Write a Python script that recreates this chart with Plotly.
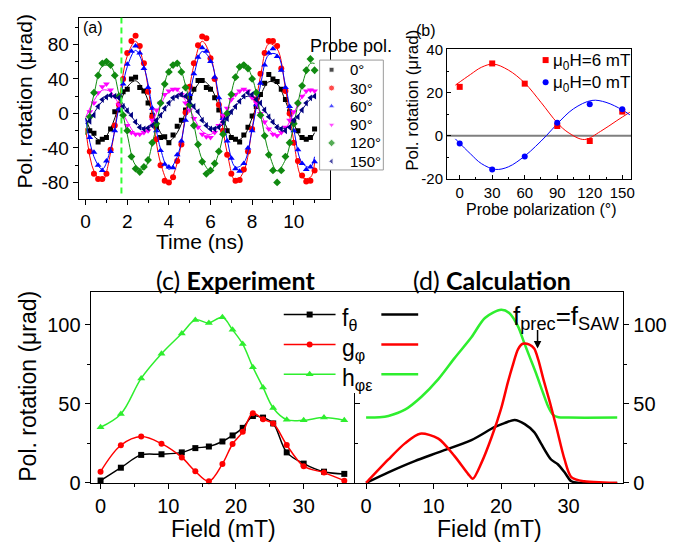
import plotly.graph_objects as go

W, H = 692, 553
def px(x): return x / W
def py(y): return 1 - y / H

# ---------------- panel (a): time traces ----------------
time_ns = [0.2, 0.4, 0.6, 0.8, 1.0, 1.2, 1.4, 1.6, 1.8, 2.0, 2.2, 2.4, 2.6, 2.8, 3.0, 3.2, 3.4, 3.6, 3.8, 4.0,
           4.2, 4.4, 4.6, 4.8, 5.0, 5.2, 5.4, 5.6, 5.8, 6.0, 6.2, 6.4, 6.6, 6.8, 7.0, 7.2, 7.4, 7.6, 7.8, 8.0,
           8.2, 8.4, 8.6, 8.8, 9.0, 9.2, 9.4, 9.6, 9.8, 10.0, 10.2, 10.4, 10.6, 10.8, 11.0]
fit_time_ns = [0.0, 0.4, 0.8, 1.2, 1.6, 2.0, 2.4, 2.8, 3.2, 3.6, 4.0, 4.4, 4.8, 5.2, 5.6, 6.0, 6.4, 6.8,
               7.2, 7.6, 8.0, 8.4, 8.8, 9.2, 9.6, 10.0, 10.4, 10.8, 11.0]

pol0_data = [-20, -23, -33, -30, -28, -18, 2, 4, 25, 28, 40, 42, 30, 26, 12, -2, -16, -28, -27, -34,
             -25, -15, -8, 4, 18, 28, 38, 38, 30, 28, 18, 4, -4, -20, -28, -30, -33, -25, -16, -3,
             8, 22, 35, 45, 40, 37, 28, 16, 2, -10, -20, -28, -30, -28, -18]
pol0_fit = [-5.2, -26.4, -31.4, -17.3, 8.0, 30.5, 37.8, 25.9, 1.4, -22.3, -32.0, -22.3, 1.4, 25.9, 37.8,
            30.5, 8.0, -17.3, -31.4, -26.4, -5.2, 20.5, 36.6, 34.1, 14.4, -11.5, -29.5, -29.5, -22.3]

pol30_data = [-44, -70, -76, -76, -70, -42, -14, 10, 40, 70, 84, 90, 78, 58, 25, -4, -30, -60, -78, -80,
              -74, -55, -36, 1, 31, 58, 79, 89, 87, 64, 40, 10, -20, -48, -70, -78, -77, -65, -44, -18,
              16, 46, 70, 84, 84, 78, 52, 26, 0, -34, -55, -72, -79, -78, -66]
pol30_fit = [-17.3, -67.0, -78.5, -45.6, 13.7, 66.5, 83.6, 55.7, -1.9, -57.4, -80.0, -57.4, -1.9, 55.7, 83.6,
             66.5, 13.7, -45.6, -78.5, -67.0, -17.3, 43.0, 80.6, 74.9, 28.8, -32.0, -74.1, -74.1, -57.4]

pol60_data = [-28, -45, -60, -66, -55, -44, -20, 5, 34, 57, 72, 78, 70, 52, 30, 6, -20, -43, -59, -62,
              -63, -48, -32, -8, 22, 46, 65, 76, 72, 60, 42, 18, -6, -32, -52, -64, -67, -58, -40, -20,
              10, 35, 56, 70, 75, 66, 50, 30, 8, -20, -42, -58, -65, -62, -56]
pol60_fit = [-5.9, -50.2, -64.7, -41.2, 7.2, 54.0, 73.0, 54.0, 7.2, -41.2, -64.7, -50.2, -5.9, 44.1, 71.8,
             62.0, 20.2, -30.5, -62.2, -57.3, -18.6, 32.6, 68.0, 68.0, 32.6, -18.6, -57.3, -62.2, -50.2]

pol90_data = [2, 12, 24, 31, 34, 27, 20, 10, -2, -14, -22, -24, -24, -22, -20, -8, 4, 12, 22, 26,
              28, 28, 22, 12, 4, -6, -16, -24, -27, -28, -22, -14, -2, 6, 16, 22, 26, 28, 26, 18,
              12, 0, -10, -18, -24, -26, -22, -16, -8, 2, 10, 20, 26, 27, 26]
pol90_fit = [-4.7, 14.8, 26.9, 25.1, 10.2, -9.5, -23.1, -23.1, -9.5, 10.2, 25.1, 26.9, 14.8, -4.7, -20.8,
             -24.5, -13.9, 5.3, 22.3, 27.9, 18.9, 0.3, -17.7, -25.0, -17.7, 0.3, 18.9, 27.9, 26.9]

pol120_data = [-4, 24, 44, 58, 60, 56, 44, 20, -2, -20, -50, -64, -68, -62, -54, -34, -12, 12, 34, 48,
               56, 58, 48, 30, 10, -14, -36, -56, -70, -66, -58, -44, -24, 0, 22, 42, 54, 56, 52, 40,
               24, -2, -26, -48, -66, -80, -66, -50, -34, -12, 12, 32, 50, 63, 50]
pol120_fit = [-24.6, 22.1, 54.5, 54.5, 22.1, -24.6, -60.0, -64.4, -35.5, 10.8, 49.0, 57.9, 32.6, -13.0, -53.5,
              -66.7, -45.3, -1.0, 41.6, 59.0, 41.6, -1.0, -45.3, -66.7, -53.5, -13.0, 32.6, 57.9, 57.9]

pol150_data = [-9, -2, 8, 16, 19, 21, 20, 18, 8, 3, -2, -10, -16, -18, -17, -14, -8, -2, 6, 12,
               18, 20, 22, 20, 14, 8, 2, -8, -14, -18, -18, -16, -10, -6, 2, 8, 14, 20, 24, 22,
               16, 12, 4, -4, -10, -16, -18, -20, -16, -8, -4, 4, 12, 18, 20]
pol150_fit = [-12.3, 0.6, 13.9, 20.4, 16.4, 4.2, -9.5, -17.2, -14.5, -3.0, 11.0, 19.7, 18.4, 7.7, -6.4,
              -16.1, -16.1, -6.4, 7.7, 18.4, 19.7, 11.0, -3.0, -14.5, -17.2, -9.5, 4.2, 16.4, 19.7]

probe_labels = ["0°", "30°", "60°", "90°", "120°", "150°"]
marker_time_ns = 1.72

# ---------------- panel (b) ----------------
probe_angle = [0, 30, 60, 90, 120, 150]
rot_6mT = [22.7, 33.6, 24.2, 4.5, -2.5, 11.2]
rot_0mT = [-3.7, -15.7, -9.7, 6.0, 14.6, 12.3]
fit6_angle = [-4, 10, 20, 31, 45, 60, 75, 90, 100, 115, 130, 145, 157]
fit6_rot = [23.5, 28.5, 31.8, 33.3, 30.5, 24.5, 15.5, 6.0, 1.5, -1.8, 2.0, 7.0, 10.9]
fit0_angle = [-4, 10, 20, 33, 45, 60, 70, 80, 90, 105, 122, 135, 150, 157]
fit0_rot = [-1.5, -8.5, -13.0, -15.7, -14.5, -9.5, -5.0, 0.0, 5.5, 12.5, 16.4, 15.5, 12.0, 9.7]
legend_b = ["μ<sub>0</sub>H=6 mT", "μ<sub>0</sub>H=0 mT"]

# ---------------- panel (c) experiment ----------------
exp_field = [0, 3, 6, 9, 12, 14, 16, 18, 19.5, 21, 22.5, 24, 25.5, 27.5, 30, 33, 36]
exp_f = [1.5, 9.6, 17.7, 18.1, 19.3, 22, 23, 26.2, 30, 34.8, 42.3, 41.3, 37.6, 19.3, 12.2, 7.1, 5.7]
exp_g = [7.1, 23.8, 29.3, 24.8, 16.1, 7.3, 1.0, 12.0, 24.6, 32.3, 44.1, 40.2, 37.6, 24.0, 10.6, 6.5, 1.4]
exp_h = [35.2, 43.6, 66.1, 81.7, 94.5, 103, 101.2, 104.7, 96.8, 87.8, 73.2, 60.4, 47.4, 40, 39.6, 41.3, 39.6]

# ---------------- panel (d) calculation ----------------
calc_field_f = [0, 3.3, 7.2, 10.7, 15.6, 19, 20.5, 22, 23.5, 24.9, 25.9, 27.4, 28.4, 29.4, 30.4, 31.5, 37.2]
calc_f = [0, 6.7, 13.8, 19.3, 27, 35.2, 37.8, 39.8, 37.2, 32.1, 25, 14.8, 11.8, 6.7, 1.0, 0, 0]
calc_field_g = [0, 3.3, 5.75, 8, 10.7, 13.1, 15.1, 15.8, 17.1, 18.6, 20, 21, 21.7, 22.5, 23.2, 24.2, 24.9,
                25.5, 26.3, 27.2, 28.2, 29.4, 30.4, 32.3, 35.2, 37.2]
calc_g = [0, 14.8, 25, 31.1, 28, 16.9, 5.7, 2.6, 12.8, 29, 47, 63.6, 74, 84.5, 88, 87.5, 85,
          78, 65, 51.4, 35, 14.8, 3.7, 1, 0.3, 0]
calc_field_h = [0, 2, 3.3, 5.75, 8.2, 10.7, 13.1, 15.6, 17.6, 20, 21.2, 22.5, 23.3, 24.2, 25.2, 26.2, 27.0,
                27.7, 28.5, 30, 37.2]
calc_h = [41.3, 41.5, 42.3, 46.3, 54.5, 65.6, 78.9, 92.1, 104.3, 109.5, 107.5, 99, 90, 80, 69, 57, 48,
          43, 41.5, 41.3, 41.3]
cd_labels = ["f<sub>θ</sub>", "g<sub>φ</sub>", "h<sub>φε</sub>"]
resonance_field, resonance_value = 25.4, 85

# ---------------- styles ----------------
FONT = "Liberation Sans, Arial, sans-serif"
TITLEFONT = "Lato, Open Sans, sans-serif"
BLACK, RED, BLUE, MAG, DGREEN, NAVY = "#000000", "#FF0000", "#0000FF", "#FF00FF", "#108A10", "#000080"
LIME = "#2EEE2E"

fig = go.Figure()

series_a = [
    (pol0_data, pol0_fit, BLACK, "square", 5),
    (pol30_data, pol30_fit, RED, "circle", 6),
    (pol60_data, pol60_fit, BLUE, "triangle-up", 6),
    (pol90_data, pol90_fit, MAG, "triangle-down", 6),
    (pol120_data, pol120_fit, DGREEN, "diamond", 6),
    (pol150_data, pol150_fit, NAVY, "triangle-left", 6),
]
for data, fit, col, sym, sz in series_a:
    fig.add_trace(go.Scatter(x=fit_time_ns, y=fit, mode="lines", xaxis="x", yaxis="y",
                             line=dict(color=col, width=1, shape="spline", smoothing=1.0),
                             showlegend=False, hoverinfo="skip"))
    fig.add_trace(go.Scatter(x=time_ns, y=data, mode="markers", xaxis="x", yaxis="y",
                             marker=dict(color=col, symbol=sym, size=sz, line=dict(width=0)),
                             showlegend=False))

# panel (b)
fig.add_trace(go.Scatter(x=fit6_angle, y=fit6_rot, mode="lines", xaxis="x2", yaxis="y2",
                         line=dict(color=RED, width=1, shape="spline", smoothing=1.0), showlegend=False))
fig.add_trace(go.Scatter(x=fit0_angle, y=fit0_rot, mode="lines", xaxis="x2", yaxis="y2",
                         line=dict(color=BLUE, width=1, shape="spline", smoothing=1.0), showlegend=False))
fig.add_trace(go.Scatter(x=probe_angle, y=rot_6mT, mode="markers", xaxis="x2", yaxis="y2",
                         marker=dict(color=RED, symbol="square", size=6), showlegend=False, cliponaxis=False))
fig.add_trace(go.Scatter(x=probe_angle, y=rot_0mT, mode="markers", xaxis="x2", yaxis="y2",
                         marker=dict(color=BLUE, symbol="circle", size=6), showlegend=False, cliponaxis=False))

# panel (c)
for y, col, sym, sz in [(exp_h, LIME, "triangle-up", 7), (exp_f, BLACK, "square", 6), (exp_g, RED, "circle", 6)]:
    fig.add_trace(go.Scatter(x=exp_field, y=y, mode="lines+markers", xaxis="x3", yaxis="y3",
                             line=dict(color=col, width=1.5, shape="spline", smoothing=1.0),
                             marker=dict(color=col, symbol=sym, size=sz), showlegend=False, cliponaxis=False))

# panel (d)
for xs, ys, col in [(calc_field_h, calc_h, LIME), (calc_field_f, calc_f, BLACK), (calc_field_g, calc_g, RED)]:
    fig.add_trace(go.Scatter(x=xs, y=ys, mode="lines", xaxis="x4", yaxis="y4",
                             line=dict(color=col, width=2.5, shape="spline", smoothing=0.8), showlegend=False))
# divider axis helper (empty)
fig.add_trace(go.Scatter(x=[], y=[], xaxis="x4", yaxis="y6", showlegend=False))

# ---------------- overlay (pixel coordinates) for legend glyphs ----------------
leg_a_rows = [63, 82, 101, 120, 139, 158]
fig.add_trace(go.Scatter(x=[321, 385, 385, 321, 321], y=[53, 53, 167, 167, 53], mode="lines",
                         fill="toself", fillcolor="white", line=dict(color="#9a9a9a", width=1),
                         xaxis="x5", yaxis="y5", showlegend=False, hoverinfo="skip"))
fig.add_trace(go.Scatter(x=[333] * 6, y=leg_a_rows, mode="markers", xaxis="x5", yaxis="y5",
                         marker=dict(color=[s[2] for s in series_a], symbol=[s[3] for s in series_a],
                                     size=[s[4] for s in series_a]), showlegend=False, hoverinfo="skip"))
leg_b_rows = [53, 76]
fig.add_trace(go.Scatter(x=[548, 548], y=leg_b_rows, mode="markers", xaxis="x5", yaxis="y5",
                         marker=dict(color=[RED, BLUE], symbol=["square", "circle"], size=6),
                         showlegend=False, hoverinfo="skip"))
leg_cd_rows = [317, 348, 379]
for r, col, sym, sz in zip(leg_cd_rows, [BLACK, RED, LIME], ["square", "circle", "triangle-up"], [6, 6, 7]):
    fig.add_trace(go.Scatter(x=[285, 311, 337], y=[r, r, r], mode="lines", xaxis="x5", yaxis="y5",
                             line=dict(color=col, width=1.5), showlegend=False, hoverinfo="skip"))
    fig.add_trace(go.Scatter(x=[311], y=[r], mode="markers", xaxis="x5", yaxis="y5",
                             marker=dict(color=col, symbol=sym, size=sz), showlegend=False, hoverinfo="skip"))
    fig.add_trace(go.Scatter(x=[383, 420], y=[r, r], mode="lines", xaxis="x5", yaxis="y5",
                             line=dict(color=col, width=2.5), showlegend=False, hoverinfo="skip"))

# ---------------- axes ----------------
def ax(**kw):
    base = dict(showline=True, linecolor="black", linewidth=1, showgrid=False, zeroline=False,
                ticks="outside", tickcolor="black", ticklen=5, tickwidth=1, autorange=False,
                tickfont=dict(family=FONT, size=20, color="black"))
    base.update(kw)
    return base

def minor(vals, ticks="outside", ln=3):
    return dict(tickvals=vals, ticks=ticks, ticklen=ln, tickcolor="black", showgrid=False)

fig.update_layout(
    width=W, height=H, margin=dict(l=0, r=0, t=0, b=0), autosize=False,
    paper_bgcolor="white", plot_bgcolor="rgba(0,0,0,0)",
    font=dict(family=FONT, color="black"),
    showlegend=False,
    xaxis=ax(domain=[px(79), px(331)], range=[-0.335, 11.72], anchor="y", mirror=True,
             tickvals=[0, 2, 4, 6, 8, 10], minor=minor([1, 3, 5, 7, 9, 11]),
             tickfont=dict(family=FONT, size=19)),
    yaxis=ax(domain=[py(197), py(9)], range=[-99, 110.9], anchor="x", mirror=True,
             tickvals=[-80, -40, 0, 40, 80], ticktext=["-80", "-40", "0", "40", "80"],
             minor=minor([-60, -20, 20, 60, 100]), tickfont=dict(family=FONT, size=19)),
    xaxis2=ax(domain=[px(449), px(634)], range=[-11.67, 158.3], anchor="y2", mirror=True,
              ticks="inside", ticklen=4, tickvals=[0, 30, 60, 90, 120, 150],
              minor=minor([15, 45, 75, 105, 135], "inside", 2), tickfont=dict(family=FONT, size=15)),
    yaxis2=ax(domain=[py(176), py(42)], range=[-20, 40.1], anchor="x2", mirror=True,
              ticks="inside", ticklen=4, tickvals=[-20, 0, 20, 40], ticktext=["-20", "0", "20", "40"],
              minor=minor([-10, 10, 30], "inside", 2), tickfont=dict(family=FONT, size=15)),
    xaxis3=ax(domain=[px(91), px(357)], range=[-1.47, 37.65], anchor="y3", mirror=True,
              tickvals=[0, 10, 20, 30], minor=minor([5, 15, 25, 35])),
    yaxis3=ax(domain=[py(492), py(294)], range=[-0.2, 120.5], anchor="x3",
              tickvals=[0, 50, 100], minor=minor([25, 75])),
    xaxis4=ax(domain=[px(357), px(626)], range=[-1.58, 38.1], anchor="y4", mirror=True,
              tickvals=[0, 10, 20, 30], minor=minor([5, 15, 25, 35])),
    yaxis4=ax(domain=[py(492), py(294)], range=[-0.2, 120.5], anchor="x4", side="right",
              tickvals=[0, 50, 100], minor=minor([25, 75])),
    yaxis6=ax(domain=[py(492), py(398)], range=[-0.2, 57.1], anchor="x4", side="left",
              ticks="inside", tickvals=[0, 50], showticklabels=False, minor=minor([25], "inside")),
    xaxis5=dict(domain=[0, 1], range=[0, W], visible=False, anchor="y5", fixedrange=True),
    yaxis5=dict(domain=[0, 1], range=[H, 0], visible=False, anchor="x5", fixedrange=True),
)

# reference shapes
fig.add_shape(type="line", xref="x", yref="y domain", x0=marker_time_ns, x1=marker_time_ns, y0=0.03, y1=1,
              line=dict(color="#33FF33", width=2, dash="6px,4px"))
fig.add_shape(type="line", xref="x2 domain", yref="y2", x0=0, x1=1, y0=0, y1=0,
              line=dict(color="#7f7f7f", width=2), layer="below")

# ---------------- annotations ----------------
ann = []
def text(x, y, s, size, xanchor="center", yanchor="middle", angle=0, family=FONT):
    ann.append(dict(x=px(x), y=py(y), xref="paper", yref="paper", text=s, showarrow=False,
                    xanchor=xanchor, yanchor=yanchor, textangle=angle,
                    font=dict(family=family, size=size, color="black")))

text(81, 19, "(a)", 16, xanchor="left")
text(428, 22, "(b)", 16)
text(309, 38, "Probe pol.", 18, xanchor="left")
for r, lab in zip(leg_a_rows, probe_labels):
    text(350, r, lab, 15, xanchor="left")
for r, lab in zip(leg_b_rows, legend_b):
    text(553, r + 2, lab, 17, xanchor="left")
text(25, 96, "Pol. rotation (μrad)", 21, angle=-90)
text(201, 241, "Time (ns)", 21)
text(414, 95, "Pol. rotation (μrad)", 17, angle=-90)
text(543, 208, "Probe polarization (°)", 16)
text(28, 391, "Pol. rotation (μrad)", 23, angle=-90)
text(224, 539, "Field (mT)", 23)
text(492, 539, "Field (mT)", 23)
text(237, 281, "(c) <b>Experiment</b>", 25, family=TITLEFONT)
text(494, 281, "(d) <b>Calculation</b>", 25, family=TITLEFONT)
for r, lab in zip(leg_cd_rows, cd_labels):
    text(341, r + 5, lab, 23, xanchor="left")
text(513, 320, "f<sub>prec</sub>=f<sub>SAW</sub>", 26, xanchor="left")
ann.append(dict(x=resonance_field, y=resonance_value, xref="x4", yref="y4", text="", showarrow=True,
                ax=0, ay=-20, arrowhead=2, arrowsize=1, arrowwidth=1.5, arrowcolor="black"))
fig.update_layout(annotations=ann)

page_fix = ("document.documentElement.style.margin='0';document.documentElement.style.overflow='hidden';"
            "document.body.style.margin='0';document.body.style.padding='0';document.body.style.overflow='hidden';")
fig.write_html("out.html", post_script=page_fix, config={"displayModeBar": False, "staticPlot": True})
